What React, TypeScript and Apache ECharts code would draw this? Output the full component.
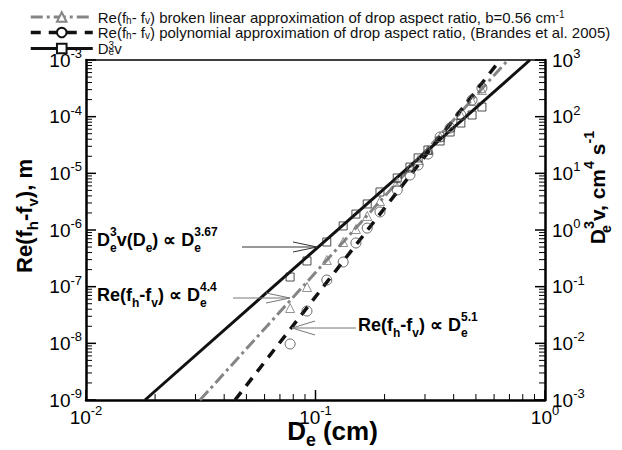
import React, { useEffect, useRef } from 'react';
import * as echarts from 'echarts';

const FONT = '"Liberation Sans", Arial, Helvetica, sans-serif';

// Drop equivolume diameter (cm) of the plotted drops
const diameters = [0.0775, 0.0918, 0.112, 0.132, 0.15, 0.168, 0.191, 0.227, 0.258, 0.28, 0.309, 0.349, 0.386, 0.43, 0.481, 0.531];
// D_e^3 v in cm^4 s^-1 (right axis)
const d3vValues = [0.148, 0.284, 0.614, 1.18, 1.91, 2.88, 4.69, 8.28, 12.9, 18.7, 25.8, 37.2, 53.6, 77.3, 107, 148];
// Re(fh - fv), m, broken linear axis-ratio approximation (left axis)
const brokenValues = [4.2e-8, 9.86e-8, 2.96e-7, 6.14e-7, 1.04e-6, 1.77e-6, 3.25e-6, 7.03e-6, 1.24e-5, 1.72e-5, 2.58e-5, 4.38e-5, 6.58e-5, 1.07e-4, 1.89e-4, 2.96e-4];
// Re(fh - fv), m, polynomial axis-ratio approximation (left axis)
const polyValues = [9.75e-9, 3.72e-8, 1.31e-7, 2.72e-7, 5.9e-7, 1.08e-6, 2.08e-6, 5.08e-6, 9.35e-6, 1.4e-5, 2.19e-5, 4.38e-5, 6.31e-5, 1.07e-4, 1.97e-4, 3.21e-4];

// Power-law fit lines (endpoints at the plot edges)
const fitD3vD = [0.01807, 0.86];
const fitD3vV = [1e-3, 1e3];
const fitBrokenD = [0.0314, 0.69];
const fitBrokenV = [1e-9, 1e-3];
const fitPolyD = [0.0446, 0.637];
const fitPolyV = [1e-9, 1e-3];

// Axis ranges
const X_MIN = 0.01, X_MAX = 1;
const YL_MIN = 1e-9, YL_MAX = 1e-3;
const YR_MIN = 1e-3, YR_MAX = 1e3;

const GRID = { left: 86, right: 77, top: 60, bottom: 50 };
const W = 622, H = 450;

function logTicks(fromExp: number, toExp: number) {
  const out: number[][] = [];
  for (let e = fromExp; e <= toExp; e++) {
    out.push([Math.pow(10, e), 1]);
    if (e < toExp) for (let k = 2; k <= 9; k++) out.push([Number((k * Math.pow(10, e)).toPrecision(6)), 0]);
  }
  return out;
}

const pairs = (xs: number[], ys: number[]) => xs.map((x, i) => [x, ys[i]]);

const tickRich = {
  b: { fontSize: 19, lineHeight: 26, color: '#000', fontFamily: FONT },
  s: { fontSize: 13, lineHeight: 13, verticalAlign: 'top', color: '#000', fontFamily: FONT },
};
const powFmt = (v: number) => `{b|10}{s|${Math.round(Math.log10(v))}}`;

const mkTitleRich = (size: number) => ({
  b: { fontSize: size, fontWeight: 'bold', lineHeight: size + 10, color: '#000', fontFamily: FONT },
  sb: { fontSize: size * 0.68, fontWeight: 'bold', lineHeight: size * 0.68, verticalAlign: 'bottom', color: '#000', fontFamily: FONT },
  sz: { fontSize: size * 0.68, fontWeight: 'bold', lineHeight: size * 0.68, width: 0, verticalAlign: 'bottom', color: '#000', fontFamily: FONT },
  sp: { fontSize: size * 0.68, fontWeight: 'bold', lineHeight: size * 0.68, verticalAlign: 'top', color: '#000', fontFamily: FONT },
});

const annRich = (color: string) => ({
  b: { fontSize: 18, fontWeight: 'bold', lineHeight: 28, color, fontFamily: FONT },
  sb: { fontSize: 12, fontWeight: 'bold', lineHeight: 12, verticalAlign: 'bottom', color, fontFamily: FONT },
  sz: { fontSize: 12, fontWeight: 'bold', lineHeight: 12, width: 0, verticalAlign: 'bottom', color, fontFamily: FONT },
  sp: { fontSize: 12, fontWeight: 'bold', lineHeight: 12, verticalAlign: 'top', color, fontFamily: FONT },
});

const legendNames: Record<string, string> = {
  broken: '{n|Re(f}{sb|h}{n|- f}{sb|v}{n|) broken linear approximation of drop aspect ratio, b=0.56 cm}{sp|-1}',
  poly: '{n|Re(f}{sb|h}{n|- f}{sb|v}{n|) polynomial approximation of drop aspect ratio, (Brandes et al. 2005)}',
  d3v: '{n|D}{sz|e}{sp|3}{n|v}',
};

const annotations: any[] = [
  {
    type: 'text', x: 97, y: 240, z: 10,
    style: { text: '{b|D}{sz|e}{sp|3}{b|v(D}{sb|e}{b|) ∝ D}{sz|e}{sp|3.67}', rich: annRich('#111'), verticalAlign: 'middle' },
  },
  {
    type: 'text', x: 97, y: 295, z: 10,
    style: { text: '{b|Re(f}{sb|h}{b|-f}{sb|v}{b|) ∝ D}{sz|e}{sp|4.4}', rich: annRich('#555'), verticalAlign: 'middle' },
  },
  {
    type: 'text', x: 358, y: 325, z: 10,
    style: { text: '{b|Re(f}{sb|h}{b|-f}{sb|v}{b|) ∝ D}{sz|e}{sp|5.1}', rich: annRich('#555'), verticalAlign: 'middle' },
  },
  { type: 'line', z: 10, shape: { x1: 242, y1: 247, x2: 317, y2: 247 }, style: { stroke: '#333', lineWidth: 1 } },
  { type: 'polyline', z: 10, shape: { points: [[293, 242], [317, 247], [293, 252]] }, style: { stroke: '#333', fill: null, lineWidth: 1 } },
  { type: 'line', z: 10, shape: { x1: 233, y1: 298, x2: 290, y2: 298 }, style: { stroke: '#777', lineWidth: 1 } },
  { type: 'polyline', z: 10, shape: { points: [[266, 293], [290, 298], [266, 303]] }, style: { stroke: '#777', fill: null, lineWidth: 1 } },
  { type: 'line', z: 10, shape: { x1: 292, y1: 328, x2: 356, y2: 328 }, style: { stroke: '#777', lineWidth: 1 } },
  { type: 'polyline', z: 10, shape: { points: [[315, 321], [292, 328], [315, 335]] }, style: { stroke: '#777', fill: null, lineWidth: 1 } },
];

// Pixel of a value on a log axis spanning [a0, a1] mapped onto [p0, p1]
const logPix = (v: number, a0: number, a1: number, p0: number, p1: number) =>
  p0 + ((Math.log10(v) - Math.log10(a0)) / (Math.log10(a1) - Math.log10(a0))) * (p1 - p0);

function buildTicks(chart: any) {
  const ticks: any[] = [];
  const x0 = GRID.left, x1 = W - GRID.right, y0 = H - GRID.bottom, y1 = GRID.top;
  const conv = (finder: any, val: number[], fallback: number[]) => {
    let p: any = null;
    try { p = chart.convertToPixel(finder, val); } catch (e) { p = null; }
    if (!p || !isFinite(p[0]) || !isFinite(p[1])) p = fallback;
    return p;
  };
  const add = (p: number[], dx: number, dy: number, major: boolean) => {
    ticks.push({
      type: 'line', z: 20, silent: true,
      shape: { x1: p[0], y1: p[1], x2: p[0] + dx, y2: p[1] + dy },
      style: { stroke: '#000', lineWidth: major ? 1.5 : 1 },
    });
  };
  logTicks(-2, 0).forEach(([v, m]) => {
    const p = conv({ xAxisIndex: 0, yAxisIndex: 0 }, [v, YL_MIN], [logPix(v, X_MIN, X_MAX, x0, x1), y0]);
    add(p, 0, -(m ? 10 : 6), !!m);
  });
  logTicks(-9, -3).forEach(([v, m]) => {
    const p = conv({ xAxisIndex: 0, yAxisIndex: 0 }, [X_MIN, v], [x0, logPix(v, YL_MIN, YL_MAX, y0, y1)]);
    add(p, m ? 10 : 6, 0, !!m);
  });
  logTicks(-3, 3).forEach(([v, m]) => {
    const p = conv({ xAxisIndex: 0, yAxisIndex: 1 }, [X_MAX, v], [x1, logPix(v, YR_MIN, YR_MAX, y0, y1)]);
    add(p, -(m ? 10 : 6), 0, !!m);
  });
  return ticks;
}

export default function App() {
  const ref = useRef<HTMLDivElement>(null);
  useEffect(() => {
    if (!ref.current) return;
    const chart = echarts.init(ref.current, undefined, { renderer: 'svg' });
    const logX = { type: 'log', logBase: 10, min: X_MIN, max: X_MAX, gridIndex: 0 };
    const option: any = {
      animation: false,
      backgroundColor: '#fff',
      grid: { ...GRID, outerBoundsMode: 'none' },
      legend: {
        data: ['broken', 'poly', 'd3v'],
        orient: 'vertical',
        left: 24,
        top: 4,
        itemWidth: 62,
        itemHeight: 12,
        itemGap: 0,
        selectedMode: false,
        lineStyle: { width: 'inherit' },
        formatter: (n: string) => legendNames[n],
        textStyle: {
          fontSize: 15,
          fontFamily: FONT,
          color: '#111',
          rich: {
            n: { fontSize: 15, lineHeight: 16, color: '#111', fontFamily: FONT },
            sb: { fontSize: 10, lineHeight: 10, verticalAlign: 'bottom', color: '#111', fontFamily: FONT },
            sz: { fontSize: 10, lineHeight: 10, width: 0, verticalAlign: 'bottom', color: '#111', fontFamily: FONT },
            sp: { fontSize: 10, lineHeight: 10, verticalAlign: 'top', color: '#111', fontFamily: FONT },
          },
        },
      },
      xAxis: [
        {
          ...logX,
          position: 'bottom',
          axisLine: { show: true, onZero: false, lineStyle: { color: '#000', width: 2.5 } },
          axisTick: { show: false },
          axisLabel: { show: true, margin: 4, formatter: powFmt, rich: tickRich },
          splitLine: { show: false },
          name: '{b|D}{sb|e}{b| (cm)}',
          nameLocation: 'middle',
          nameGap: 13,
          nameMoveOverlap: false,
          nameTextStyle: { rich: mkTitleRich(26), padding: [0, 0, 0, 34] },
        },
        {
          ...logX,
          position: 'top',
          axisLine: { show: true, onZero: false, lineStyle: { color: '#000', width: 1.5 } },
          axisTick: { show: false },
          axisLabel: { show: false },
          splitLine: { show: false },
        },
      ],
      yAxis: [
        {
          type: 'log', logBase: 10, min: YL_MIN, max: YL_MAX, position: 'left',
          axisLine: { show: true, onZero: false, lineStyle: { color: '#000', width: 2.5 } },
          axisTick: { show: false },
          axisLabel: { show: true, margin: 4, formatter: powFmt, rich: tickRich },
          splitLine: { show: false },
          name: '{b|Re(f}{sb|h}{b|-f}{sb|v}{b|), m}',
          nameLocation: 'middle',
          nameGap: 46,
          nameMoveOverlap: false,
          nameTextStyle: { rich: mkTitleRich(22), padding: [0, 0, 0, 28] },
        },
        {
          type: 'log', logBase: 10, min: YR_MIN, max: YR_MAX, position: 'right',
          axisLine: { show: true, onZero: false, lineStyle: { color: '#000', width: 2.5 } },
          axisTick: { show: false },
          axisLabel: { show: true, margin: 7, formatter: powFmt, rich: tickRich },
          splitLine: { show: false },
          name: '{b|D}{sz|e}{sp|3}{b|v, cm}{sp|4}{b| s}{sp|-1}',
          nameLocation: 'middle',
          nameRotate: 90,
          nameGap: 37,
          nameMoveOverlap: false,
          nameTextStyle: { rich: mkTitleRich(21), padding: [0, 0, 0, 85] },
        },
      ],
      series: [
        {
          name: 'broken', type: 'line', xAxisIndex: 0, yAxisIndex: 0,
          data: pairs(fitBrokenD, fitBrokenV),
          symbol: 'emptyTriangle', showSymbol: false, color: '#858585',
          lineStyle: { color: '#858585', width: 3, type: [12, 4, 3, 4] },
          z: 3,
        },
        {
          name: 'poly', type: 'line', xAxisIndex: 0, yAxisIndex: 0,
          data: pairs(fitPolyD, fitPolyV),
          symbol: 'emptyCircle', showSymbol: false, color: '#111',
          lineStyle: { color: '#111', width: 3.5, type: [10, 8] },
          z: 3,
        },
        {
          name: 'd3v', type: 'line', xAxisIndex: 0, yAxisIndex: 1,
          data: pairs(fitD3vD, fitD3vV),
          symbol: 'emptyRect', showSymbol: false, color: '#111',
          lineStyle: { color: '#111', width: 3 },
          z: 3,
        },
        {
          name: 'brokenPts', type: 'scatter', xAxisIndex: 0, yAxisIndex: 0,
          data: pairs(diameters, brokenValues), symbol: 'triangle', symbolSize: 9,
          itemStyle: { color: 'rgba(0,0,0,0)', borderColor: '#777', borderWidth: 1 }, z: 4,
        },
        {
          name: 'polyPts', type: 'scatter', xAxisIndex: 0, yAxisIndex: 0,
          data: pairs(diameters, polyValues), symbol: 'circle', symbolSize: 10,
          itemStyle: { color: 'rgba(0,0,0,0)', borderColor: '#444', borderWidth: 1 }, z: 4,
        },
        {
          name: 'd3vPts', type: 'scatter', xAxisIndex: 0, yAxisIndex: 1,
          data: pairs(diameters, d3vValues), symbol: 'rect', symbolSize: 8,
          itemStyle: { color: 'rgba(0,0,0,0)', borderColor: '#222', borderWidth: 1 }, z: 4,
        },
      ],
      graphic: annotations,
    };
    chart.setOption(option);
    chart.setOption({ graphic: [...annotations, ...buildTicks(chart)] });
    return () => chart.dispose();
  }, []);
  return <div ref={ref} style={{ width: 622, height: 450, position: 'absolute', left: 0, top: 0 }} />;
}
